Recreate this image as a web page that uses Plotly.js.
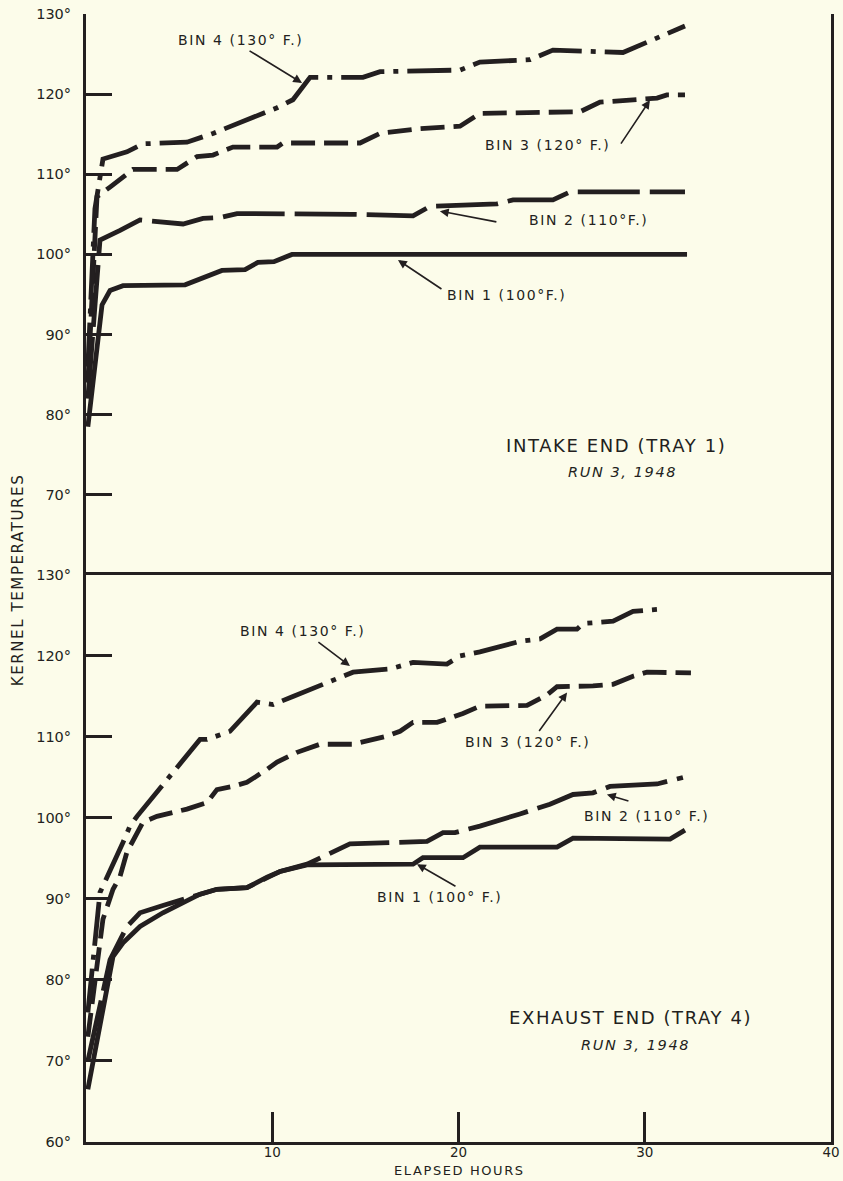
<!DOCTYPE html>
<html>
<head>
<meta charset="utf-8">
<script src="https://cdn.plot.ly/plotly-3.0.1.min.js"></script>
<style>
html,body{margin:0;padding:0;background:#fcfcea;}
#chart{width:843px;height:1181px;}
.annotation-text{letter-spacing:1.6px;}
</style>
</head>
<body>
<div id="chart"></div>
<script>
// ---------- DATA (elapsed hours, kernel temperature °F) ----------
// Intake end (Tray 1), Run 3, 1948
var intakeBin1Hours = [0.1, 0.86, 1.29, 1.99, 5.32, 7.30, 8.54, 9.23, 10.09, 11.06, 32.27];
var intakeBin1Temp  = [78.5, 93.7, 95.5, 96.1, 96.2, 98.0, 98.1, 99.0, 99.1, 100.0, 100.0];

var intakeBin2Hours = [0.1, 0.75, 1.83, 2.90, 5.21, 6.28, 7.19, 8.11, 14.28, 17.56, 18.47, 22.07, 22.93, 25.07, 25.99, 32.16];
var intakeBin2Temp  = [82, 101.8, 103.0, 104.3, 103.8, 104.5, 104.6, 105.1, 105.0, 104.8, 106.0, 106.3, 106.8, 106.8, 107.8, 107.8];

var intakeBin3Hours = [0.1, 0.59, 1.29, 2.20, 2.52, 4.89, 5.96, 6.82, 7.89, 10.26, 10.58, 14.71, 15.79, 17.93, 20.08, 21.15, 26.52, 27.60, 30.66, 31.19, 32.16];
var intakeBin3Temp  = [84, 107.2, 108.4, 110.1, 110.6, 110.6, 112.2, 112.4, 113.4, 113.4, 113.9, 113.9, 115.1, 115.7, 116.0, 117.6, 117.8, 119.0, 119.5, 119.9, 119.9];

var intakeBin4Hours = [0.1, 0.48, 0.91, 2.20, 3.06, 5.42, 6.82, 10.26, 11.11, 12.03, 14.87, 15.79, 20.08, 21.15, 23.84, 25.07, 28.83, 30.66, 32.16];
var intakeBin4Temp  = [86, 105.7, 111.9, 112.8, 113.8, 114.0, 115.1, 118.3, 119.3, 122.1, 122.1, 122.8, 123.0, 124.0, 124.3, 125.5, 125.2, 127.1, 128.5];

// Exhaust end (Tray 4), Run 3, 1948
var exhaustBin1Hours = [0.1, 1.45, 1.99, 2.90, 4.13, 6.12, 7.03, 8.64, 9.72, 10.42, 11.87, 17.56, 18.09, 20.24, 21.15, 25.29, 26.15, 31.36, 32.16];
var exhaustBin1Temp  = [66.5, 82.9, 84.6, 86.6, 88.3, 90.6, 91.2, 91.4, 92.7, 93.4, 94.2, 94.3, 95.1, 95.1, 96.4, 96.4, 97.5, 97.4, 98.5];

var exhaustBin2Hours = [0.1, 1.29, 2.20, 2.90, 4.13, 6.12, 7.03, 8.64, 9.72, 10.42, 11.87, 13.74, 14.17, 18.31, 19.17, 19.81, 21.15, 23.30, 24.21, 24.91, 26.15, 27.22, 28.13, 30.66, 32.05];
var exhaustBin2Temp  = [70, 82.5, 86.6, 88.3, 89.2, 90.6, 91.2, 91.4, 92.7, 93.4, 94.3, 96.4, 96.8, 97.1, 98.2, 98.2, 99.0, 100.5, 101.1, 101.7, 102.9, 103.1, 103.9, 104.2, 105.0];

var exhaustBin3Hours = [0.1, 0.91, 1.45, 1.83, 2.20, 2.63, 3.06, 3.81, 5.42, 6.50, 7.03, 7.89, 8.64, 9.72, 10.26, 11.33, 12.56, 14.34, 16.16, 16.86, 17.56, 18.85, 20.24, 21.15, 23.68, 24.75, 25.29, 27.22, 28.30, 29.37, 30.12, 32.48];
var exhaustBin3Temp  = [73, 87.5, 91.2, 92.8, 95.8, 97.8, 99.5, 100.2, 101.1, 101.9, 103.5, 103.9, 104.4, 106.0, 106.9, 108.1, 109.1, 109.1, 110.1, 110.7, 111.8, 111.8, 112.9, 113.8, 113.9, 115.2, 116.2, 116.3, 116.5, 117.5, 118.0, 117.9];

var exhaustBin4Hours = [0.1, 0.75, 1.99, 2.36, 2.74, 6.12, 6.50, 7.73, 9.18, 10.04, 11.11, 12.40, 14.34, 16.32, 17.56, 19.38, 20.08, 21.15, 23.30, 24.38, 25.29, 26.36, 26.68, 28.30, 29.37, 30.98];
var exhaustBin4Temp  = [76, 90.8, 97.0, 99.0, 100.2, 109.7, 109.7, 110.7, 114.3, 114.0, 115.0, 116.2, 118.0, 118.4, 119.2, 119.0, 120.0, 120.5, 121.8, 122.1, 123.3, 123.3, 124.0, 124.3, 125.5, 125.8];

var binLabels = ['BIN 1 (100°F.)', 'BIN 2 (110°F.)', 'BIN 3 (120° F.)', 'BIN 4 (130° F.)'];
var exhaustBinLabels = ['BIN 1 (100° F.)', 'BIN 2 (110° F.)', 'BIN 3 (120° F.)', 'BIN 4 (130° F.)'];
var topTickVals = [70, 80, 90, 100, 110, 120, 130];
var bottomTickVals = [60, 70, 80, 90, 100, 110, 120, 130];
var hourTickVals = [10, 20, 30, 40];

// ---------- STYLE ----------
var INK = '#231f20';
var BG = '#fcfcea';
var FONT = 'DejaVu Sans, Liberation Sans, sans-serif';
var W = 4.8;
var dashes = ['solid', '62px,10px', '24px,9px', '44px,9px,5px,9px'];

function degText(v){ return v.map(function(d){ return d + '°'; }); }
function trace(h, t, dash, ya){
  return {x: h, y: t, xaxis: 'x', yaxis: ya, mode: 'lines', showlegend: false, hoverinfo: 'skip',
          line: {color: INK, width: W, dash: dash, shape: 'linear'}};
}

var data = [
  trace(intakeBin1Hours, intakeBin1Temp, dashes[0], 'y2'),
  trace(intakeBin2Hours, intakeBin2Temp, dashes[1], 'y2'),
  trace(intakeBin3Hours, intakeBin3Temp, dashes[2], 'y2'),
  trace(intakeBin4Hours, intakeBin4Temp, dashes[3], 'y2'),
  trace(exhaustBin2Hours, exhaustBin2Temp, dashes[1], 'y'),
  trace(exhaustBin3Hours, exhaustBin3Temp, dashes[2], 'y'),
  trace(exhaustBin4Hours, exhaustBin4Temp, dashes[3], 'y'),
  trace(exhaustBin1Hours, exhaustBin1Temp, dashes[0], 'y')
];

function label(text, x, y, yref, size, style){
  return {text: text, x: x, y: y, xref: 'x', yref: yref, showarrow: false,
          xanchor: 'center', yanchor: 'middle',
          font: {family: FONT, size: size || 14, color: INK, style: style || 'normal'}};
}
function arrow(x, y, yref, ax, ay){
  return {text: '', x: x, y: y, xref: 'x', yref: yref, showarrow: true,
          ax: ax, ay: ay, axref: 'pixel', ayref: 'pixel',
          arrowhead: 2, arrowsize: 1.1, arrowwidth: 1.6, arrowcolor: INK, standoff: 0,
          font: {size: 1, color: INK}};
}

var annotations = [
  // intake panel
  label(binLabels[3], 8.27, 126.75, 'y2'),
  label(binLabels[2], 24.8, 113.65, 'y2'),
  label(binLabels[1], 27.0, 104.3, 'y2'),
  label(binLabels[0], 22.6, 94.9, 'y2'),
  label('INTAKE END (TRAY 1)', 28.46, 76.2, 'y2', 18),
  label('RUN 3, 1948', 28.83, 72.8, 'y2', 14.5, 'italic'),
  arrow(11.6, 121.4, 'y2', -54, -33),
  arrow(30.28, 119.26, 'y2', -30, 45),
  arrow(19.0, 105.4, 'y2', 58, 11),
  arrow(16.75, 99.3, 'y2', 45, 30),
  // exhaust panel
  label(exhaustBinLabels[3], 11.65, 123.1, 'y'),
  label(exhaustBinLabels[2], 23.68, 109.35, 'y'),
  label(exhaustBinLabels[1], 30.07, 100.2, 'y'),
  label(exhaustBinLabels[0], 19.0, 90.3, 'y'),
  label('EXHAUST END (TRAY 4)', 29.26, 75.4, 'y', 18),
  label('RUN 3, 1948', 29.5, 72.0, 'y', 14.5, 'italic'),
  arrow(14.17, 118.75, 'y', -33, -25),
  arrow(25.83, 115.5, 'y', -29, 40),
  arrow(27.97, 102.9, 'y', 23, 7),
  arrow(17.77, 94.3, 'y', 40, 23),
  // axis titles
  {text: 'KERNEL TEMPERATURES', xref: 'paper', yref: 'paper', x: 0, y: 0.498, xshift: -68,
   textangle: -90, showarrow: false, xanchor: 'center', yanchor: 'middle',
   font: {family: FONT, size: 15, color: INK}},
  {text: 'ELAPSED HOURS', xref: 'x', yref: 'paper', x: 20.08, y: 0, yshift: -28,
   showarrow: false, xanchor: 'center', yanchor: 'middle',
   font: {family: FONT, size: 13, color: INK}}
];

var split = 0.5027;
var axisCommon = {showgrid: false, zeroline: false, showline: true, mirror: true,
                  linecolor: INK, linewidth: 3, ticks: 'inside', tickcolor: INK, tickwidth: 3,
                  tickfont: {family: FONT, size: 14.5, color: INK}};

var layout = {
  width: 843, height: 1181,
  paper_bgcolor: BG, plot_bgcolor: BG,
  margin: {l: 86, r: 12, t: 14, b: 39, pad: 0},
  showlegend: false,
  xaxis: Object.assign({}, axisCommon, {
    range: [0, 40], anchor: 'y', tickvals: hourTickVals,
    ticktext: hourTickVals.map(String), ticklen: 30, ticklabelstandoff: -4,
    tickfont: {family: FONT, size: 13.5, color: INK}
  }),
  xaxis2: Object.assign({}, axisCommon, {
    matches: 'x', anchor: 'y2', ticks: '', showticklabels: false
  }),
  yaxis: Object.assign({}, axisCommon, {
    domain: [0, split], range: [60, 130], anchor: 'x',
    tickvals: bottomTickVals, ticktext: degText(bottomTickVals), ticklen: 26,
    ticklabelstandoff: 9
  }),
  yaxis2: Object.assign({}, axisCommon, {
    domain: [split, 1], range: [60, 130], anchor: 'x',
    tickvals: topTickVals, ticktext: degText(topTickVals), ticklen: 26,
    ticklabelstandoff: 9
  }),
  annotations: annotations
};

Plotly.newPlot('chart', data, layout, {staticPlot: true, displayModeBar: false});
</script>
</body>
</html>
